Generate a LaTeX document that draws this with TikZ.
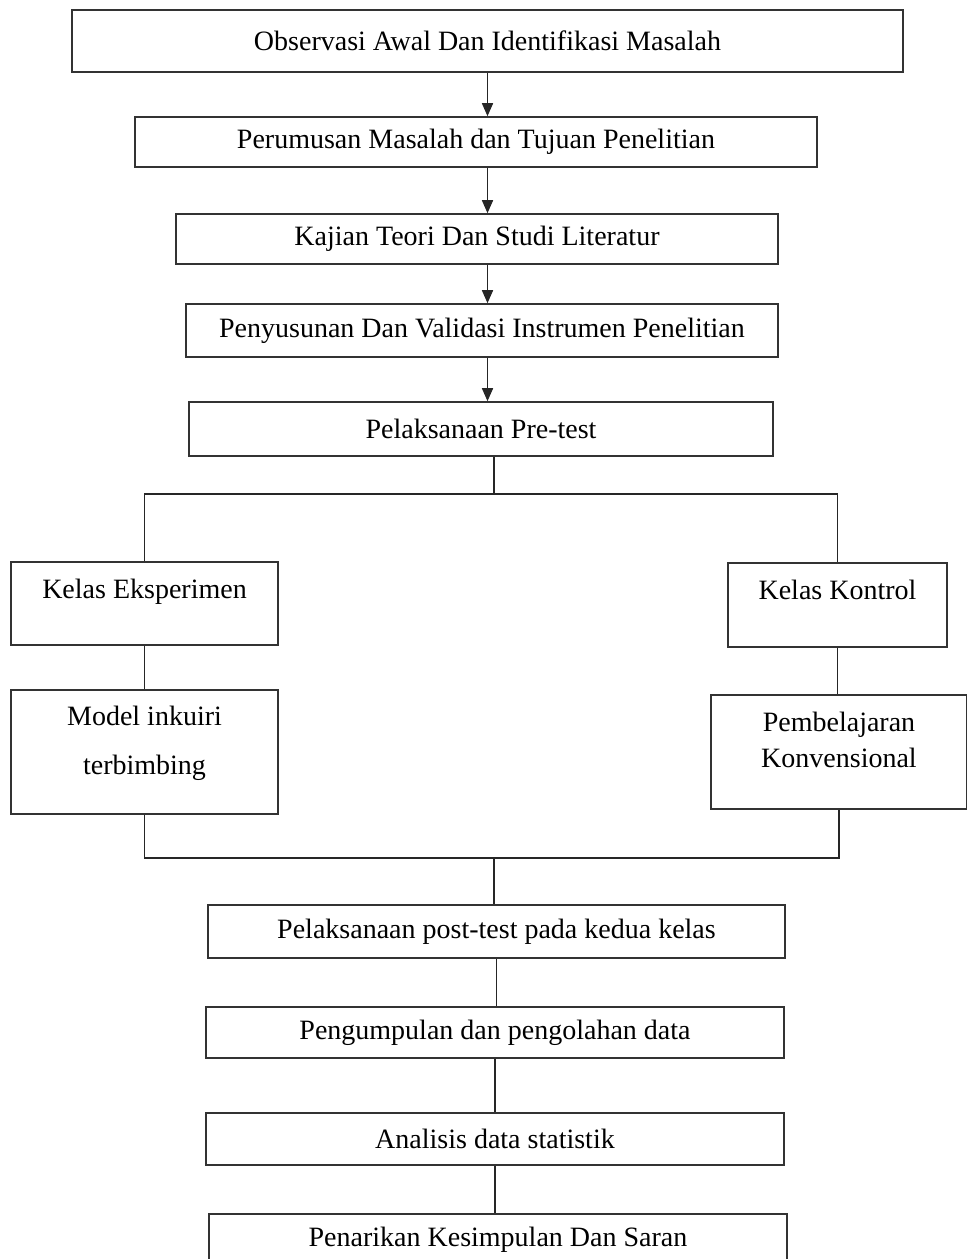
\documentclass[tikz,border=0pt]{standalone}
\usepackage{fontspec}
\setmainfont{Liberation Serif}
\usetikzlibrary{arrows.meta, positioning}

\begin{document}
\begin{tikzpicture}[
  x=0.5pt, y=-0.5pt,
  box/.style={draw=black!80, line width=0.8pt, rectangle, inner sep=0pt,
              text centered, font=\fontsize{14pt}{16.8pt}\selectfont},
  topbox/.style={box, inner ysep=0pt, text height=18pt, text depth=23.5pt},
  line/.style={draw=black!85, line width=0.75pt},
  arr/.style={line, -{Triangle[length=6.5pt, width=5.5pt]}}
]
  \path[fill=white] (0,0) rectangle (967,1259);
  \useasboundingbox (0,0) rectangle (967,1259);

  \node[box, minimum width=415.5pt, minimum height=31pt] (obs) at (487.5,41) {Observasi Awal Dan Identifikasi Masalah};
  \node[box, minimum width=341pt, minimum height=25pt] (rum) at (476,142) {Perumusan Masalah dan Tujuan Penelitian};
  \node[box, minimum width=301pt, minimum height=25pt] (kaj) at (477,239) {Kajian Teori Dan Studi Literatur};
  \node[box, minimum width=296pt, minimum height=26.5pt] (ins) at (482,330.5) {Penyusunan Dan Validasi Instrumen Penelitian};
  \node[box, minimum width=292pt, minimum height=27pt] (pre) at (481,429) {Pelaksanaan Pre-test};

  \node[topbox, minimum width=133.5pt] (eks) at (144.5,603.5) {Kelas Eksperimen};
  \node[topbox, minimum width=109.5pt, text depth=24pt] (kon) at (837.5,605) {Kelas Kontrol};
  \node[topbox, align=center, minimum width=133.5pt, text height=42pt, text depth=20pt] (mod) at (144.5,752) {Model inkuiri\\[7.7pt]terbimbing};
  \node[topbox, align=center, minimum width=128pt, text height=36pt, text depth=21pt] (pem) at (839,752) {Pembelajaran\\[1.2pt]Konvensional};

  \node[box, minimum width=288.5pt, minimum height=26.5pt] (post) at (496.5,931.5) {Pelaksanaan post-test pada kedua kelas};
  \node[box, minimum width=289pt, minimum height=25.5pt] (olah) at (495,1032.5) {Pengumpulan dan pengolahan data};
  \node[box, minimum width=289pt, minimum height=26pt] (ana) at (495,1139) {Analisis data statistik};
  \node[box, minimum width=289pt, minimum height=26pt] (sim) at (498,1240) {Penarikan Kesimpulan Dan Saran};

  \coordinate (split) at (494,494);
  \coordinate (join) at (494,858);

  \foreach \x/\y in {obs/rum, rum/kaj, kaj/ins, ins/pre}
    \draw[arr] (\x.south -| obs) -- (\y.north -| obs);
  \draw[line] (pre.south -| split) -- (split);
  \draw[line] (eks.north) |- (split) -| (kon.north);
  \draw[line] (eks.south) -- (mod.north);
  \draw[line] (kon.south) -- (kon.south |- pem.north);
  \draw[line] (mod.south) |- (join) -| (pem.south);
  \draw[line] (join) -- (join |- post.north);
  \foreach \x/\y in {post/olah, olah/ana, ana/sim}
    \draw[line] (\x.south) -- (\x.south |- \y.north);
\end{tikzpicture}
\end{document}
